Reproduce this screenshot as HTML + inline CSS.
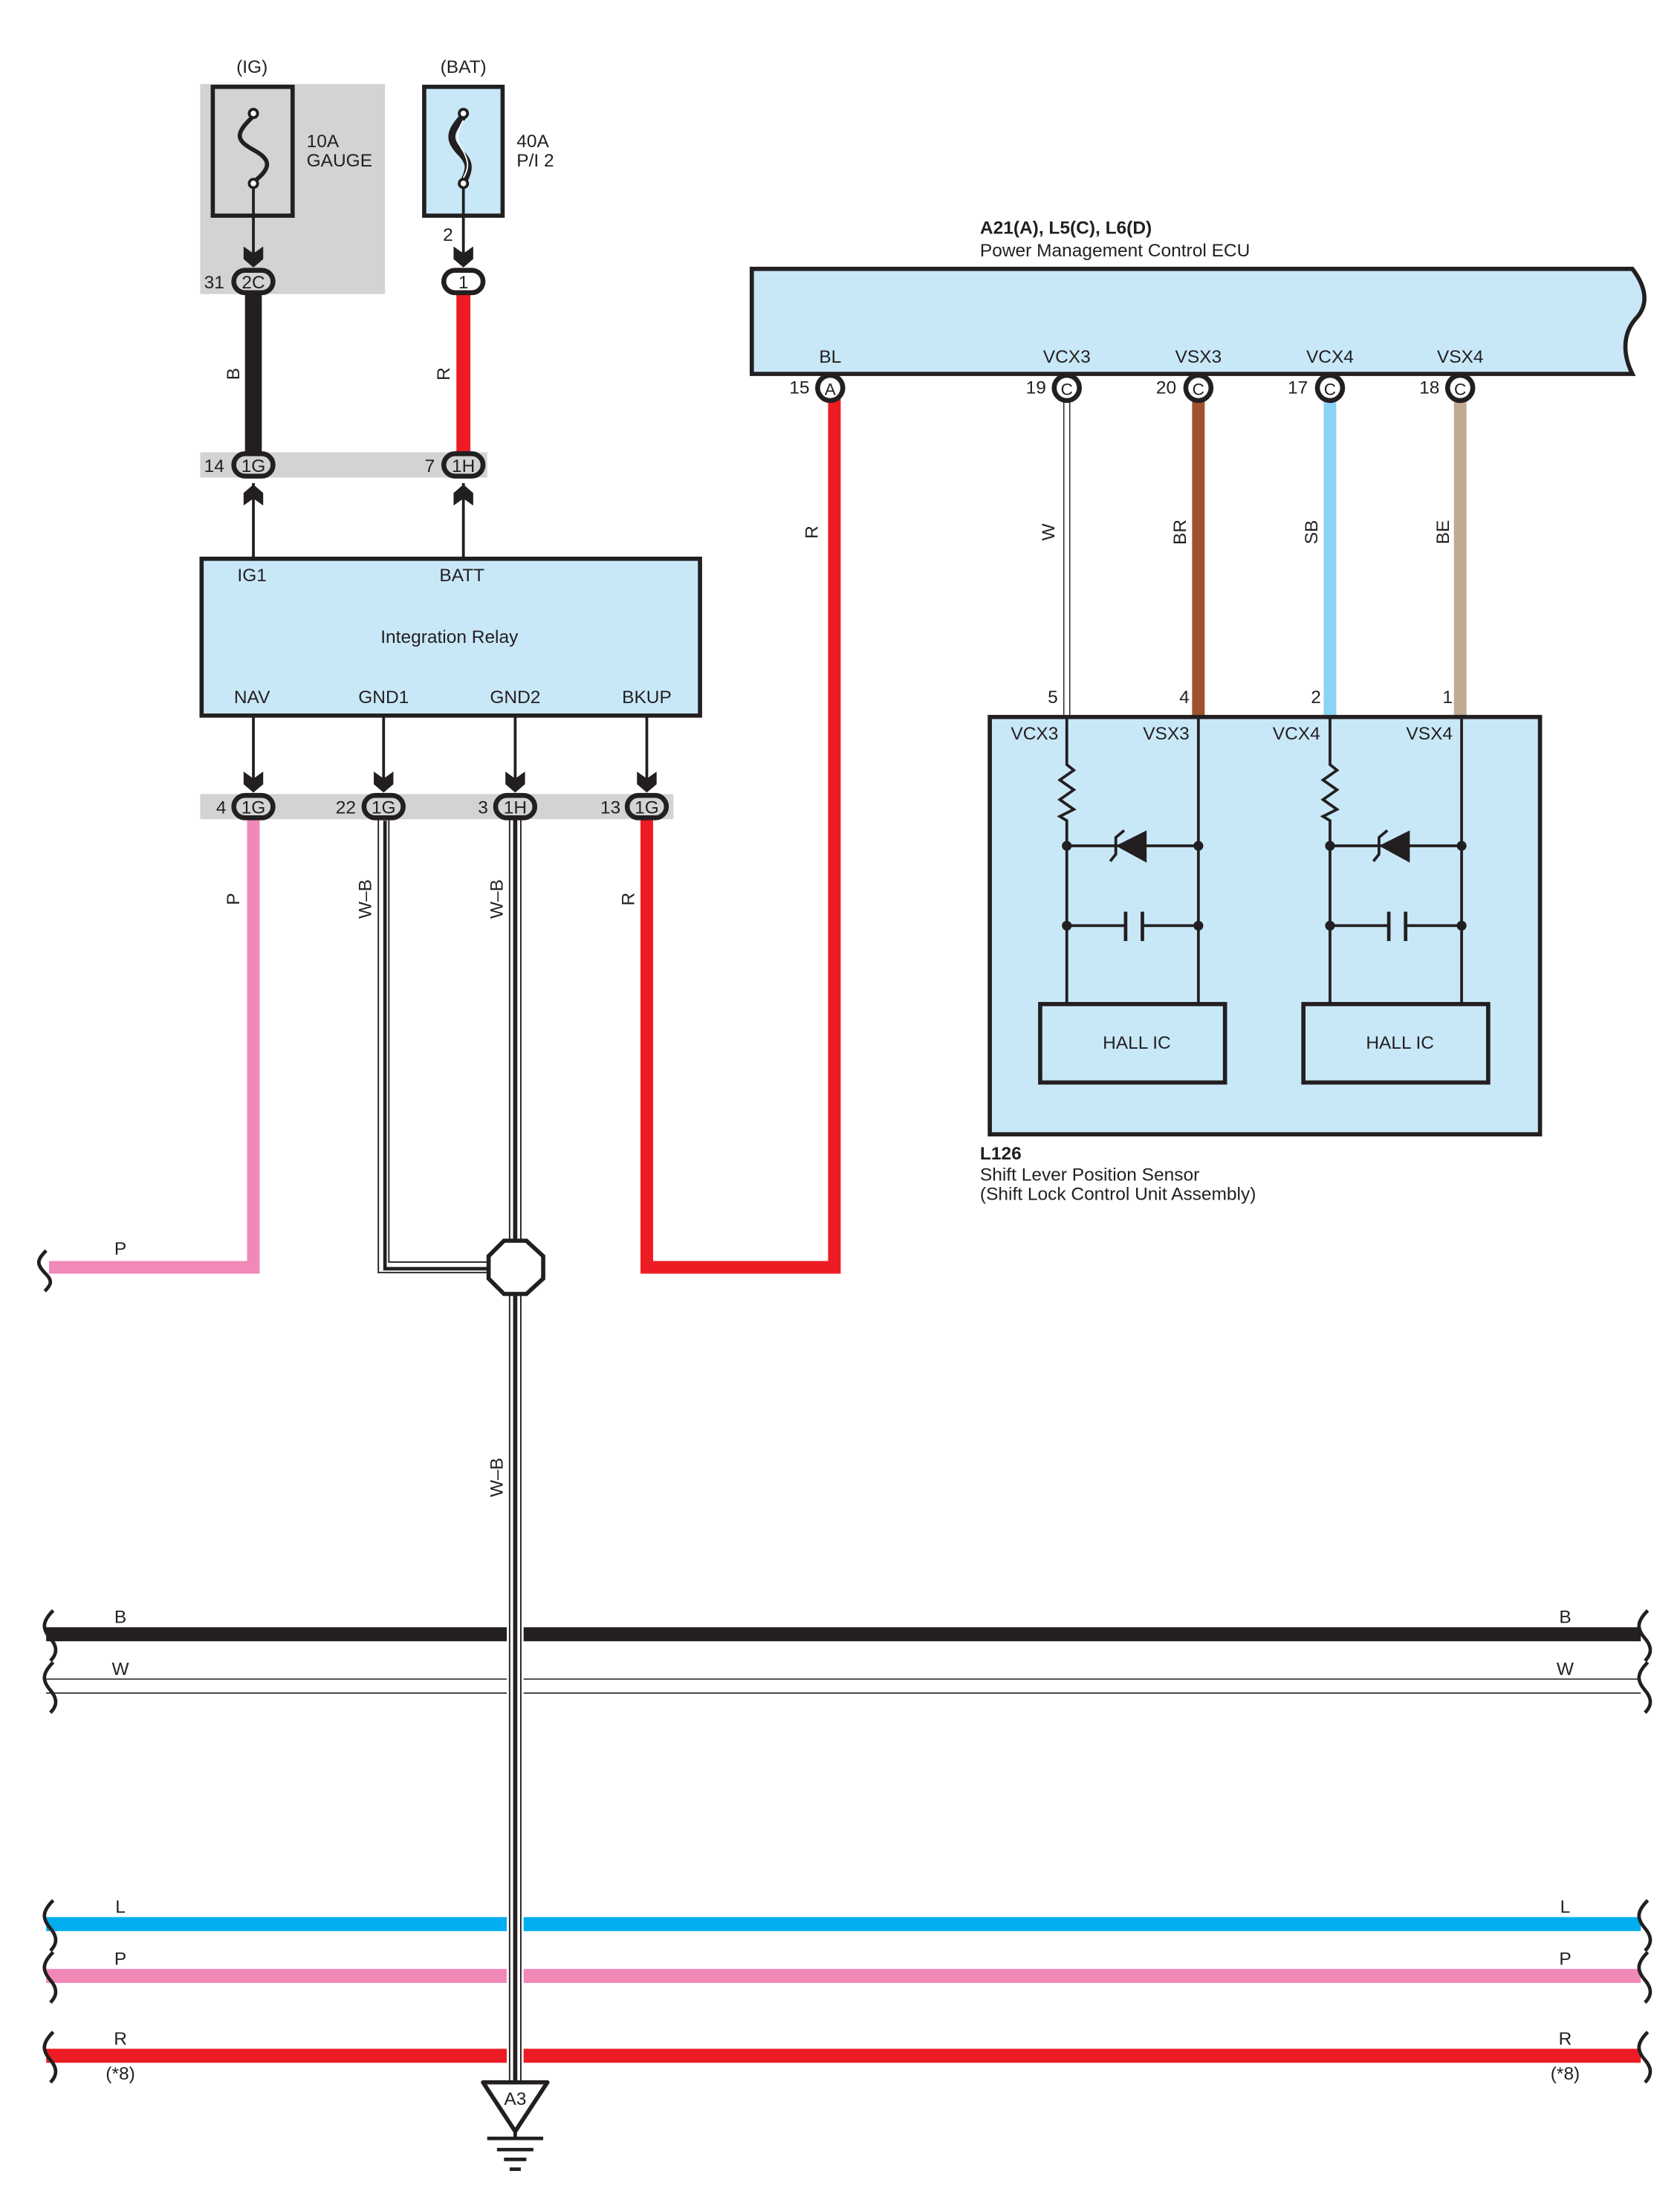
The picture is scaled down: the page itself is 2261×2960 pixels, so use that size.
<!DOCTYPE html>
<html><head><meta charset="utf-8"><style>
html,body{margin:0;padding:0;background:#fff;}
svg{display:block;}
text{font-family:"Liberation Sans",sans-serif;fill:#231f20;}
</style></head><body>
<svg width="2261" height="2960" viewBox="0 0 1200 1571" preserveAspectRatio="none" xmlns="http://www.w3.org/2000/svg">
<defs>
<g id="chev"><path d="M-7,-9 L0,-4 L7,-9 L7,0 L0,6 L-7,0 Z" fill="#231f20"/></g>
<g id="chevu"><path d="M-7,9 L0,4 L7,9 L7,0 L0,-6 L-7,0 Z" fill="#231f20"/></g>
</defs>
<g font-size="13">
<!-- top fuses -->
<rect x="143" y="60" width="132" height="150" fill="#d1d3d4"/>
<text x="180" y="52" text-anchor="middle">(IG)</text>
<text x="331" y="52" text-anchor="middle">(BAT)</text>
<rect x="152" y="62" width="57" height="92" fill="none" stroke="#231f20" stroke-width="3"/>
<rect x="303" y="62" width="56" height="92" fill="#c8e8f8" stroke="#231f20" stroke-width="3"/>
<path d="M181,83 C168,95 168,100 181,107 C194,114 194,120 181,130" fill="none" stroke="#231f20" stroke-width="3"/>
<circle cx="181" cy="81" r="3" fill="#fff" stroke="#231f20" stroke-width="2"/>
<circle cx="181" cy="131" r="3" fill="#fff" stroke="#231f20" stroke-width="2"/>
<path d="M331,83 C320,95 321,100 328,108 C336,116 336,120 331,130" fill="none" stroke="#231f20" stroke-width="5"/>
<path d="M331,86 C325,96 326,101 331,108 C335,116 335,120 331,127" fill="none" stroke="#fff" stroke-width="1"/>
<circle cx="331" cy="81" r="3" fill="#fff" stroke="#231f20" stroke-width="2"/>
<circle cx="331" cy="131" r="3" fill="#fff" stroke="#231f20" stroke-width="2"/>
<text x="219" y="105">10A</text><text x="219" y="119">GAUGE</text>
<text x="369" y="105">40A</text><text x="369" y="119">P/I 2</text>
<line x1="181" y1="134" x2="181" y2="190" stroke="#231f20" stroke-width="2"/>
<line x1="331" y1="134" x2="331" y2="190" stroke="#231f20" stroke-width="2"/>
<use href="#chev" x="181" y="185"/><use href="#chev" x="331" y="185"/>
<text x="320" y="172" text-anchor="middle">2</text>
<!-- B and R wires -->
<line x1="181" y1="205" x2="181" y2="328" stroke="#231f20" stroke-width="12"/>
<line x1="331" y1="205" x2="331" y2="328" stroke="#ed1c24" stroke-width="10"/>
<text transform="translate(171,267) rotate(-90)" text-anchor="middle">B</text>
<text transform="translate(321,267) rotate(-90)" text-anchor="middle">R</text>
<rect x="143" y="323" width="205" height="18" fill="#d1d3d4"/>
<!-- connectors -->
<g stroke="#231f20" stroke-width="3.5">
<rect x="167" y="193" width="28" height="16" rx="8" fill="#d1d3d4"/>
<rect x="317" y="193" width="28" height="16" rx="8" fill="#fff"/>
<rect x="167" y="324" width="28" height="16" rx="8" fill="#d1d3d4"/>
<rect x="317" y="324" width="28" height="16" rx="8" fill="#d1d3d4"/>
</g>
<text x="181" y="206" text-anchor="middle">2C</text><text x="153" y="206" text-anchor="middle">31</text>
<text x="331" y="206" text-anchor="middle">1</text>
<text x="181" y="337" text-anchor="middle">1G</text><text x="153" y="337" text-anchor="middle">14</text>
<text x="331" y="337" text-anchor="middle">1H</text><text x="307" y="337" text-anchor="middle">7</text>
<line x1="181" y1="345" x2="181" y2="398" stroke="#231f20" stroke-width="2"/>
<line x1="331" y1="345" x2="331" y2="398" stroke="#231f20" stroke-width="2"/>
<use href="#chevu" x="181" y="352"/><use href="#chevu" x="331" y="352"/>
<!-- relay -->
<rect x="144" y="399" width="356" height="112" fill="#c8e8f8" stroke="#231f20" stroke-width="3"/>
<text x="180" y="415" text-anchor="middle">IG1</text><text x="330" y="415" text-anchor="middle">BATT</text>
<text x="321" y="459" text-anchor="middle">Integration Relay</text>
<text x="180" y="502" text-anchor="middle">NAV</text><text x="274" y="502" text-anchor="middle">GND1</text>
<text x="368" y="502" text-anchor="middle">GND2</text><text x="462" y="502" text-anchor="middle">BKUP</text>
<g stroke="#231f20" stroke-width="2">
<line x1="181" y1="511" x2="181" y2="560"/><line x1="274" y1="511" x2="274" y2="560"/>
<line x1="368" y1="511" x2="368" y2="560"/><line x1="462" y1="511" x2="462" y2="560"/>
</g>
<use href="#chev" x="181" y="560"/><use href="#chev" x="274" y="560"/><use href="#chev" x="368" y="560"/><use href="#chev" x="462" y="560"/>
<rect x="143" y="567" width="338" height="18" fill="#d1d3d4"/>
<!-- lower wires -->
<path d="M181,585 V905 H35" fill="none" stroke="#f088b8" stroke-width="9"/>
<path d="M462,585 V905 H596 V285" fill="none" stroke="#ed1c24" stroke-width="9"/>
<g fill="none">
<path d="M274,585 V905 H350" stroke="#231f20" stroke-width="8.5"/>
<path d="M274,585 V905 H350" stroke="#fff" stroke-width="6.5"/>
<path d="M274,585 V905 H350" stroke="#231f20" stroke-width="2.5" transform="translate(1,1)"/>
<path d="M368,585 V1487" stroke="#231f20" stroke-width="9"/>
<path d="M368,585 V1487" stroke="#fff" stroke-width="7"/>
<path d="M368,585 V1487" stroke="#231f20" stroke-width="3"/>
</g>
<g stroke="#231f20" stroke-width="3.5">
<rect x="167" y="568" width="28" height="16" rx="8" fill="#d1d3d4"/>
<rect x="260" y="568" width="28" height="16" rx="8" fill="#d1d3d4"/>
<rect x="354" y="568" width="28" height="16" rx="8" fill="#d1d3d4"/>
<rect x="448" y="568" width="28" height="16" rx="8" fill="#d1d3d4"/>
</g>
<text x="181" y="581" text-anchor="middle">1G</text><text x="158" y="581" text-anchor="middle">4</text>
<text x="274" y="581" text-anchor="middle">1G</text><text x="247" y="581" text-anchor="middle">22</text>
<text x="368" y="581" text-anchor="middle">1H</text><text x="345" y="581" text-anchor="middle">3</text>
<text x="462" y="581" text-anchor="middle">1G</text><text x="436" y="581" text-anchor="middle">13</text>
<text transform="translate(171,642) rotate(-90)" text-anchor="middle">P</text>
<text transform="translate(265,642) rotate(-90)" text-anchor="middle">W–B</text>
<text transform="translate(359,642) rotate(-90)" text-anchor="middle">W–B</text>
<text transform="translate(453,642) rotate(-90)" text-anchor="middle">R</text>
<text transform="translate(359,1055) rotate(-90)" text-anchor="middle">W–B</text>
<text x="86" y="896" text-anchor="middle">P</text>
<path d="M33,893 C26,900 26,903 33,910 C38,915 36,918 32,922" fill="none" stroke="#231f20" stroke-width="2.5"/>
<!-- splice -->
<polygon points="360,886 376,886 388,897 388,913 376,924 360,924 349,913 349,897" fill="#fff" stroke="#231f20" stroke-width="3"/>
<!-- ECU -->
<path d="M537,192 H1166 C1176,205 1178,218 1168,228 C1158,240 1160,255 1166,267 H537 Z" fill="#c8e8f8" stroke="#231f20" stroke-width="3"/>
<text x="700" y="167" font-weight="bold">A21(A), L5(C), L6(D)</text>
<text x="700" y="183">Power Management Control ECU</text>
<text x="593" y="259" text-anchor="middle">BL</text><text x="762" y="259" text-anchor="middle">VCX3</text>
<text x="856" y="259" text-anchor="middle">VSX3</text><text x="950" y="259" text-anchor="middle">VCX4</text>
<text x="1043" y="259" text-anchor="middle">VSX4</text>
<line x1="762" y1="285" x2="762" y2="511" stroke="#231f20" stroke-width="5"/>
<line x1="762" y1="285" x2="762" y2="511" stroke="#fff" stroke-width="3.5"/>
<line x1="856" y1="285" x2="856" y2="511" stroke="#a0522d" stroke-width="9"/>
<line x1="950" y1="285" x2="950" y2="511" stroke="#8dd3f3" stroke-width="9"/>
<line x1="1043" y1="285" x2="1043" y2="511" stroke="#c2a994" stroke-width="9"/>
<g fill="#fff" stroke="#231f20" stroke-width="3.5">
<ellipse cx="593" cy="277" rx="9" ry="9"/><ellipse cx="762" cy="277" rx="9" ry="9"/>
<ellipse cx="856" cy="277" rx="9" ry="9"/><ellipse cx="950" cy="277" rx="9" ry="9"/>
<ellipse cx="1043" cy="277" rx="9" ry="9"/>
</g>
<g font-size="12">
<text x="593" y="282" text-anchor="middle">A</text><text x="762" y="282" text-anchor="middle">C</text>
<text x="856" y="282" text-anchor="middle">C</text><text x="950" y="282" text-anchor="middle">C</text>
<text x="1043" y="282" text-anchor="middle">C</text>
</g>
<text x="571" y="281" text-anchor="middle">15</text><text x="740" y="281" text-anchor="middle">19</text>
<text x="833" y="281" text-anchor="middle">20</text><text x="927" y="281" text-anchor="middle">17</text>
<text x="1021" y="281" text-anchor="middle">18</text>
<text transform="translate(584,380) rotate(-90)" text-anchor="middle">R</text>
<text transform="translate(753,380) rotate(-90)" text-anchor="middle">W</text>
<text transform="translate(847,380) rotate(-90)" text-anchor="middle">BR</text>
<text transform="translate(941,380) rotate(-90)" text-anchor="middle">SB</text>
<text transform="translate(1035,380) rotate(-90)" text-anchor="middle">BE</text>
<text x="752" y="502" text-anchor="middle">5</text><text x="846" y="502" text-anchor="middle">4</text>
<text x="940" y="502" text-anchor="middle">2</text><text x="1034" y="502" text-anchor="middle">1</text>
<!-- sensor -->
<rect x="707" y="512" width="393" height="298" fill="#c8e8f8" stroke="#231f20" stroke-width="3"/>
<text x="739" y="528" text-anchor="middle">VCX3</text><text x="833" y="528" text-anchor="middle">VSX3</text>
<text x="926" y="528" text-anchor="middle">VCX4</text><text x="1021" y="528" text-anchor="middle">VSX4</text>
<g id="ckt" stroke="#231f20" stroke-width="2" fill="none">
<path d="M762,512 V546 L767,550 L757,557 L767,564 L757,571 L767,578 L757,583 L762,586 V717"/>
<path d="M856,512 V717"/>
<path d="M762,604 H856"/>
<path d="M762,661 H803 M817,661 H856"/>
<path d="M804,651 V672 M816,651 V672" stroke-width="2.5"/>
<polygon points="797,604 819,593 819,616" fill="#231f20" stroke="none"/>
<path d="M803,593 L797,598 V610 L793,615"/>
<circle cx="762" cy="604" r="3.5" fill="#231f20" stroke="none"/><circle cx="856" cy="604" r="3.5" fill="#231f20" stroke="none"/>
<circle cx="762" cy="661" r="3.5" fill="#231f20" stroke="none"/><circle cx="856" cy="661" r="3.5" fill="#231f20" stroke="none"/>
<rect x="743" y="717" width="132" height="56" stroke-width="3"/>
</g>
<use href="#ckt" x="188" y="0"/>
<text x="812" y="749" text-anchor="middle">HALL IC</text>
<text x="1000" y="749" text-anchor="middle">HALL IC</text>
<text x="700" y="828" font-weight="bold">L126</text>
<text x="700" y="843">Shift Lever Position Sensor</text>
<text x="700" y="857">(Shift Lock Control Unit Assembly)</text>
<!-- buses -->
<g stroke-width="10">
<line x1="33" y1="1167" x2="362" y2="1167" stroke="#231f20"/><line x1="374" y1="1167" x2="1172" y2="1167" stroke="#231f20"/>
<line x1="33" y1="1374" x2="362" y2="1374" stroke="#00aeef"/><line x1="374" y1="1374" x2="1172" y2="1374" stroke="#00aeef"/>
<line x1="33" y1="1411" x2="362" y2="1411" stroke="#f088b8"/><line x1="374" y1="1411" x2="1172" y2="1411" stroke="#f088b8"/>
<line x1="33" y1="1468" x2="362" y2="1468" stroke="#ed1c24"/><line x1="374" y1="1468" x2="1172" y2="1468" stroke="#ed1c24"/>
</g>
<g stroke="#231f20" stroke-width="0.8">
<line x1="33" y1="1199" x2="362" y2="1199"/><line x1="374" y1="1199" x2="1172" y2="1199"/>
<line x1="33" y1="1209" x2="362" y2="1209"/><line x1="374" y1="1209" x2="1172" y2="1209"/>
</g>
<g id="brk" fill="none" stroke="#231f20" stroke-width="2.5">
<path d="M38,1150 C30,1158 30,1163 36,1170 C42,1177 40,1182 36,1186"/>
<path d="M38,1187 C30,1195 30,1200 36,1207 C42,1214 40,1219 36,1223"/>
<path d="M38,1357 C30,1365 30,1370 36,1377 C42,1384 40,1389 36,1393"/>
<path d="M38,1394 C30,1402 30,1407 36,1414 C42,1421 40,1426 36,1430"/>
<path d="M38,1451 C30,1459 30,1464 36,1471 C42,1478 40,1483 36,1487"/>
</g>
<use href="#brk" x="1139"/>
<text x="86" y="1159" text-anchor="middle">B</text><text x="1118" y="1159" text-anchor="middle">B</text>
<text x="86" y="1196" text-anchor="middle">W</text><text x="1118" y="1196" text-anchor="middle">W</text>
<text x="86" y="1366" text-anchor="middle">L</text><text x="1118" y="1366" text-anchor="middle">L</text>
<text x="86" y="1403" text-anchor="middle">P</text><text x="1118" y="1403" text-anchor="middle">P</text>
<text x="86" y="1460" text-anchor="middle">R</text><text x="1118" y="1460" text-anchor="middle">R</text>
<text x="86" y="1485" text-anchor="middle">(*8)</text><text x="1118" y="1485" text-anchor="middle">(*8)</text>
<!-- ground -->
<polygon points="345,1487 391,1487 368,1522" fill="#fff" stroke="#231f20" stroke-width="3" stroke-linejoin="round"/>
<text x="368" y="1503" text-anchor="middle">A3</text>
<g stroke="#231f20" stroke-width="2.5">
<line x1="368" y1="1522" x2="368" y2="1527"/>
<line x1="348" y1="1527" x2="388" y2="1527"/>
<line x1="355" y1="1535" x2="381" y2="1535"/>
<line x1="360" y1="1542" x2="376" y2="1542"/>
<line x1="364" y1="1549" x2="372" y2="1549"/>
</g>
</g>
</svg>
</body></html>
